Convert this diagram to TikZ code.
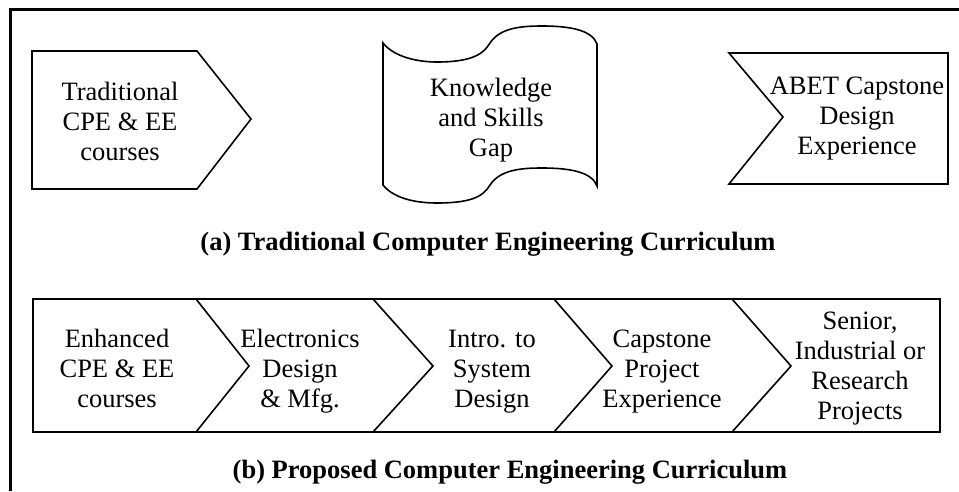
\documentclass[tikz,border=0pt]{standalone}
\usepackage{fontspec}
\setmainfont{Liberation Serif}
\tikzset{
  frameline/.style={line width=3pt},
  shapeline/.style={line width=1.6pt, line join=miter},
  lbl/.style={align=center, inner sep=0pt, anchor=base, font=\fontsize{26.5}{30}\selectfont},
  captiontext/.style={inner sep=0pt, anchor=base, font=\fontsize{26.5}{30}\selectfont\bfseries},
}
\begin{document}
\begin{tikzpicture}[x=1pt,y=-1pt]
\useasboundingbox (0,0) rectangle (959,491);
% outer frame (top and left only)
\draw[frameline] (10,491) -- (10,9) -- (959,9);

% (a) row
\draw[shapeline] (32,51) -- (197,51) -- (251,119) -- (197,189) -- (32,189) -- cycle;
\draw[shapeline] (383,43) .. controls (395,58) and (420,62) .. (437,62)
  .. controls (470,62) and (483,55) .. (490,43)
  .. controls (500,28) and (520,26) .. (542,26)
  .. controls (570,26) and (592,30) .. (597,44)
  -- (597,186)
  .. controls (592,172) and (570,168) .. (542,168)
  .. controls (520,168) and (500,170) .. (490,185)
  .. controls (483,197) and (470,203) .. (437,203)
  .. controls (420,203) and (395,200) .. (383,185) -- cycle;
\draw[shapeline] (729,53) -- (948,53) -- (948,184) -- (729,184) -- (783,117) -- cycle;

% anchor=base refers to the last line's baseline
\node[lbl] (t1) at (120,160) {Traditional\\CPE \& EE\\courses};
\node[lbl] (t2) at (491,156) {Knowledge\\and Skills\\Gap};
\node[lbl] (t3) at (857,154) {ABET Capstone\\Design\\Experience};
\node[captiontext] (capa) at (488,250) {(a) Traditional Computer Engineering Curriculum};

% (b) row
\draw[shapeline] (33,299) rectangle (940,432);
\draw[shapeline] (196,299) -- (249,366) -- (196,432);
\draw[shapeline] (373,299) -- (433,366) -- (373,432);
\draw[shapeline] (554,299) -- (612,366) -- (554,432);
\draw[shapeline] (732,299) -- (791,366) -- (732,432);

\node[lbl] (b1) at (117,407) {Enhanced\\CPE \& EE\\courses};
\node[lbl] (b2) at (300,407) {Electronics\\Design\\\& Mfg.};
\node[lbl] (b3) at (492,407) {Intro. to\\System\\Design};
\node[lbl] (b4) at (662,407) {Capstone\\Project\\Experience};
\node[lbl] (b5) at (860,419) {Senior,\\Industrial or\\Research\\Projects};
\node[captiontext] (capb) at (510,478) {(b) Proposed Computer Engineering Curriculum};
\end{tikzpicture}
\end{document}
